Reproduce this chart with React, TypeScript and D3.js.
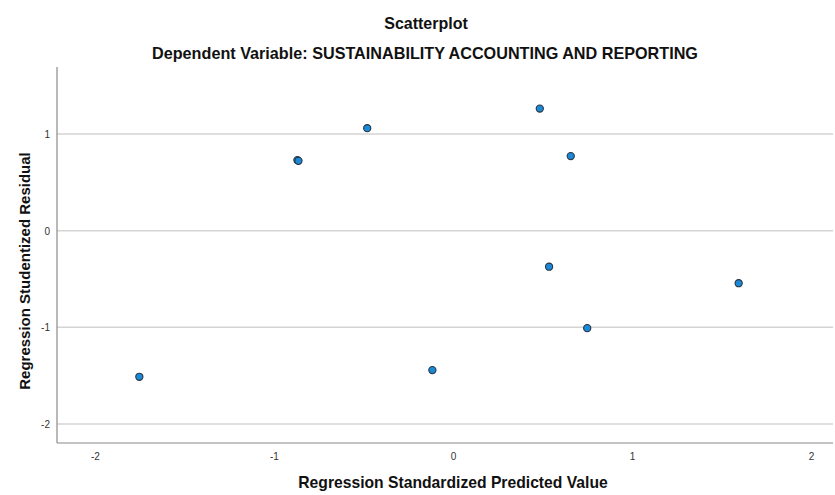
import React from "react";
import * as d3 from "d3";

const predicted = [-1.755, -0.872, -0.866, -0.482, -0.118, 0.482, 0.655, 0.534, 0.747, 1.593];
const residual = [-1.512, 0.73, 0.722, 1.06, -1.443, 1.263, 0.771, -0.373, -1.009, -0.544];
const xTicks = [-2, -1, 0, 1, 2];
const yTicks = [-2, -1, 0, 1];

const W = 835;
const H = 495;
const left = 57;
const right = 833;
const top = 67;
const bottom = 443;

export default function App() {
  const x = d3.scaleLinear().domain([-2.215, 2.12]).range([left, right]);
  const y = d3.scaleLinear().domain([-2.197, 1.693]).range([bottom, top]);
  const font = "'Liberation Sans', Arial, sans-serif";
  return (
    <svg width={W} height={H} style={{ position: "absolute", left: 0, top: 0, background: "#fff" }} fontFamily={font}>
      <rect width={W} height={H} fill="#fff" />
      <text x={426} y={29} textAnchor="middle" fontSize={16} fontWeight="bold" fill="#111">Scatterplot</text>
      <text x={425} y={58.5} textAnchor="middle" fontSize={16.2} fontWeight="bold" fill="#111">Dependent Variable: SUSTAINABILITY ACCOUNTING AND REPORTING</text>
      {yTicks.map((t) => (
        <g key={t}>
          <line x1={left} x2={right} y1={y(t)} y2={y(t)} stroke="#d4d4d4" strokeWidth={1.5} />
          <text x={50} y={y(t) + 4} textAnchor="end" fontSize={10} fill="#333">{t}</text>
        </g>
      ))}
      <line x1={left} x2={left} y1={top} y2={bottom} stroke="#8a8a8a" strokeWidth={1.2} />
      <line x1={left} x2={right} y1={bottom} y2={bottom} stroke="#8a8a8a" strokeWidth={1.2} />
      {xTicks.map((t) => (
        <text key={t} x={x(t)} y={460} textAnchor="middle" fontSize={10} fill="#333">{t}</text>
      ))}
      <text x={453} y={488} textAnchor="middle" fontSize={15.7} fontWeight="bold" fill="#111">Regression Standardized Predicted Value</text>
      <text transform={`translate(30,271) rotate(-90)`} textAnchor="middle" fontSize={15} fontWeight="bold" fill="#111">Regression Studentized Residual</text>
      {predicted.map((p, i) => (
        <circle key={i} cx={x(p)} cy={y(residual[i])} r={3.6} fill="#1a8ad8" stroke="#2a3440" strokeWidth={1.1} />
      ))}
    </svg>
  );
}
